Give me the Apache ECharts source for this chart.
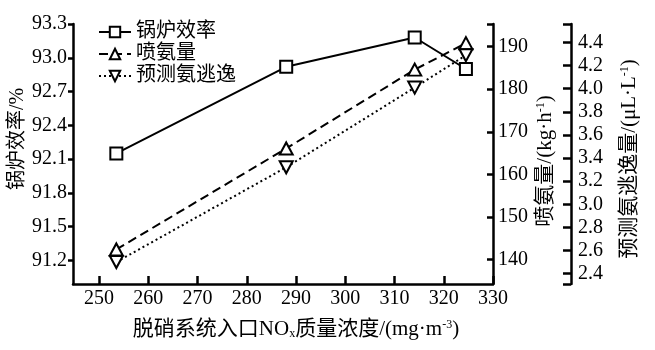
<!DOCTYPE html>
<html><head><meta charset="utf-8">
<script src="https://cdn.jsdelivr.net/npm/echarts@6/dist/echarts.min.js"></script>
<style>html,body{margin:0;padding:0;background:#fff}#c{width:655px;height:350px}</style>
</head><body><div id="c"></div>
<script>
const xValues = [253.5, 288.0, 314.1, 324.5];
const efficiency = [92.15, 92.92, 93.18, 92.90];
const ammonia = [142.4, 166.1, 184.6, 190.8];
const slip = [2.50, 3.32, 4.01, 4.29];
const xTicks = [250, 260, 270, 280, 290, 300, 310, 320, 330];
const effTicks = [91.2, 91.5, 91.8, 92.1, 92.4, 92.7, 93.0, 93.3];
const ammTicks = [140, 150, 160, 170, 180, 190];
const slipTicks = [2.4, 2.6, 2.8, 3.0, 3.2, 3.4, 3.6, 3.8, 4.0, 4.2, 4.4];
const seriesNames = ['锅炉效率', '喷氨量', '预测氨逃逸'];

const FONT = '"Liberation Serif", "Noto Sans CJK SC", serif';
const chart = echarts.init(document.getElementById('c'));
const pair = (xs, ys) => xs.map((x, i) => [x, ys[i]]);
const axisLine = {show: true, onZero: false, lineStyle: {color: '#000', width: 2.5}};
const lbl = {color: '#000', fontFamily: FONT, fontSize: 20};
const sub = {fontFamily: FONT, fontSize: 12, verticalAlign: 'top', padding: [0, 0, 8, 0]};

chart.setOption({
  animation: false,
  backgroundColor: '#fff',
  grid: {left: 73, right: 162, top: 24, bottom: 66},
  legend: {
    orient: 'vertical', left: 93, top: 17, itemWidth: 32, itemHeight: 13, itemGap: 2,
    textStyle: {color: '#000', fontFamily: FONT, fontSize: 20},
    data: seriesNames
  },
  xAxis: {
    type: 'value', min: 244.7, max: 330,
    axisLine: axisLine,
    axisTick: {show: true, inside: true, length: 8, customValues: xTicks, lineStyle: {color: '#000', width: 2.5}},
    axisLabel: Object.assign({customValues: xTicks, margin: 5}, lbl),
    splitLine: {show: false}
  },
  yAxis: [
    {
      type: 'value', min: 90.99, max: 93.3, position: 'left',
      axisLine: axisLine,
      axisTick: {show: true, inside: false, length: 5, customValues: effTicks, lineStyle: {color: '#000', width: 2.5}},
      axisLabel: Object.assign({customValues: effTicks, margin: 6, formatter: v => v.toFixed(1)}, lbl),
      splitLine: {show: false}
    },
    {
      type: 'value', min: 134.3, max: 195.3, position: 'right',
      axisLine: axisLine,
      axisTick: {show: true, inside: true, length: 6, customValues: ammTicks.concat([195.3]), lineStyle: {color: '#000', width: 2.5}},
      axisLabel: Object.assign({customValues: ammTicks, margin: 5}, lbl),
      splitLine: {show: false}
    },
    {
      type: 'value', min: 2.31, max: 4.56, position: 'right', offset: 78,
      axisLine: axisLine,
      axisTick: {show: true, inside: true, length: 8, customValues: [2.31].concat(slipTicks, [4.56]), lineStyle: {color: '#000', width: 2.5}},
      axisLabel: Object.assign({customValues: slipTicks, margin: 7, formatter: v => v.toFixed(1)}, lbl),
      splitLine: {show: false}
    }
  ],
  graphic: [
    {type: 'text', x: 296, y: 329, style: {
      text: '脱硝系统入口NO{s|x}质量浓度/(mg·m{p|-3})', align: 'center', verticalAlign: 'middle',
      fill: '#000', font: '21px ' + FONT,
      rich: {s: {fontFamily: FONT, fontSize: 12, verticalAlign: 'bottom', padding: [8, 0, 0, 0]}, p: sub}}},
    {type: 'text', x: 18, y: 139, rotation: Math.PI / 2, style: {
      text: '锅炉效率/%', align: 'center', verticalAlign: 'middle', fill: '#000', font: '20px ' + FONT}},
    {type: 'text', x: 545, y: 161, rotation: Math.PI / 2, style: {
      text: '喷氨量/(kg·h{p|-1})', align: 'center', verticalAlign: 'middle', fill: '#000', font: '21px ' + FONT, rich: {p: sub}}},
    {type: 'text', x: 629, y: 159, rotation: Math.PI / 2, style: {
      text: '预测氨逃逸量/(μL·L{p|-1})', align: 'center', verticalAlign: 'middle', fill: '#000', font: '21px ' + FONT, rich: {p: sub}}}
  ],
  series: [
    {
      name: seriesNames[0], type: 'line', yAxisIndex: 0, data: pair(xValues, efficiency),
      symbol: 'emptyRect', symbolSize: 12,
      lineStyle: {color: '#000', width: 2, type: 'solid'},
      itemStyle: {color: '#000', borderWidth: 1.8}
    },
    {
      name: seriesNames[1], type: 'line', yAxisIndex: 1, data: pair(xValues, ammonia),
      symbol: 'emptyTriangle', symbolSize: [13, 12],
      lineStyle: {color: '#000', width: 2, type: [9, 5]},
      itemStyle: {color: '#000', borderWidth: 1.8}
    },
    {
      name: seriesNames[2], type: 'line', yAxisIndex: 2, data: pair(xValues, slip),
      symbol: 'emptyTriangle', symbolRotate: 180, symbolSize: [13, 12],
      lineStyle: {color: '#000', width: 2, type: [2, 3]},
      itemStyle: {color: '#000', borderWidth: 1.8}
    }
  ]
});
</script></body></html>
